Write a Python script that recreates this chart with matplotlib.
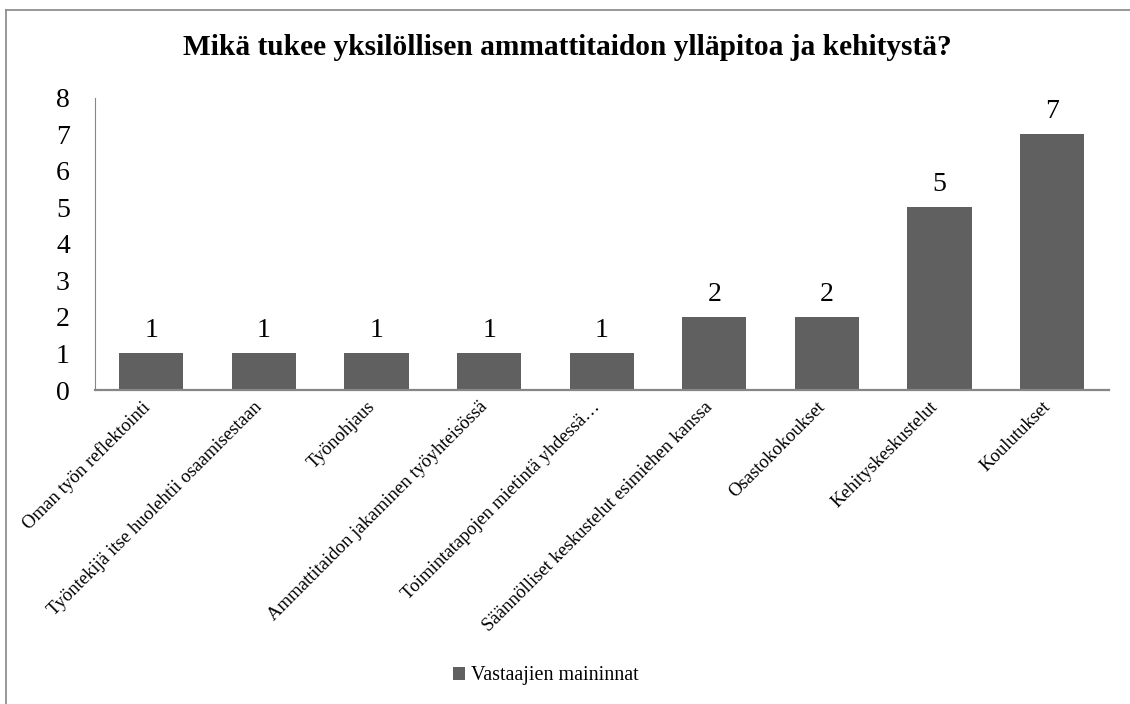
import matplotlib.pyplot as plt
import matplotlib.transforms as mtransforms
from matplotlib.lines import Line2D

plt.rcParams['font.family'] = ['Liberation Serif', 'DejaVu Serif']

categories = [
    "Oman työn reflektointi",
    "Työntekijä itse huolehtii osaamisestaan",
    "Työnohjaus",
    "Ammattitaidon jakaminen työyhteisössä",
    "Toimintatapojen mietintä yhdessä…",
    "Säännölliset keskustelut esimiehen kanssa",
    "Osastokokoukset",
    "Kehityskeskustelut",
    "Koulutukset",
]
mentions = [1, 1, 1, 1, 1, 2, 2, 5, 7]
series_name = "Vastaajien maininnat"
title = "Mikä tukee yksilöllisen ammattitaidon ylläpitoa ja kehitystä?"

bar_color = "#606060"
axis_color = "#868686"

fig = plt.figure(figsize=(11.3, 7.04), dpi=100)
ax = fig.add_axes([0.084, 0.446, 0.897, 0.415])

x = range(len(categories))
bars = ax.bar(x, mentions, width=0.57, color=bar_color, label=series_name)
for i, v in zip(x, mentions):
    ax.text(i, v + 0.28, str(v), ha="center", va="bottom", fontsize=20)

ax.set_xlim(-0.5, len(categories) - 0.5)
ax.set_ylim(0, 8)
ax.set_yticks(range(0, 9))
ax.tick_params(axis="y", length=0, labelsize=20, pad=18)
ax.tick_params(axis="x", length=0, pad=6)
ax.set_xticks(list(x))
ax.set_xticklabels(categories, rotation=45, ha="right", rotation_mode="anchor",
                   fontsize=13.5)

# nudge the slanted labels a little to the left of the tick
shift = mtransforms.ScaledTranslation(-10 / 100, 0, fig.dpi_scale_trans)
for lbl in ax.get_xticklabels():
    lbl.set_transform(lbl.get_transform() + shift)

for side in ["top", "right"]:
    ax.spines[side].set_visible(False)
ax.spines["left"].set_color(axis_color)
ax.spines["bottom"].set_color(axis_color)
ax.spines["bottom"].set_linewidth(1.6)

fig.text(0.502, 0.932, title, ha="center", va="center", fontsize=21.2, fontweight="bold")

fig.legend(handles=[bars], labels=[series_name], loc="center",
           bbox_to_anchor=(0.483, 0.04), frameon=False, fontsize=14.5,
           handlelength=0.6, handleheight=0.6, handletextpad=0.3)

# chart area border (left and top edges)
fig.add_artist(Line2D([0.005, 0.005], [0.0, 0.986], transform=fig.transFigure,
                      color=axis_color, lw=1.2))
fig.add_artist(Line2D([0.005, 1.0], [0.986, 0.986], transform=fig.transFigure,
                      color=axis_color, lw=1.2))

fig.savefig("out.png", dpi=100)
